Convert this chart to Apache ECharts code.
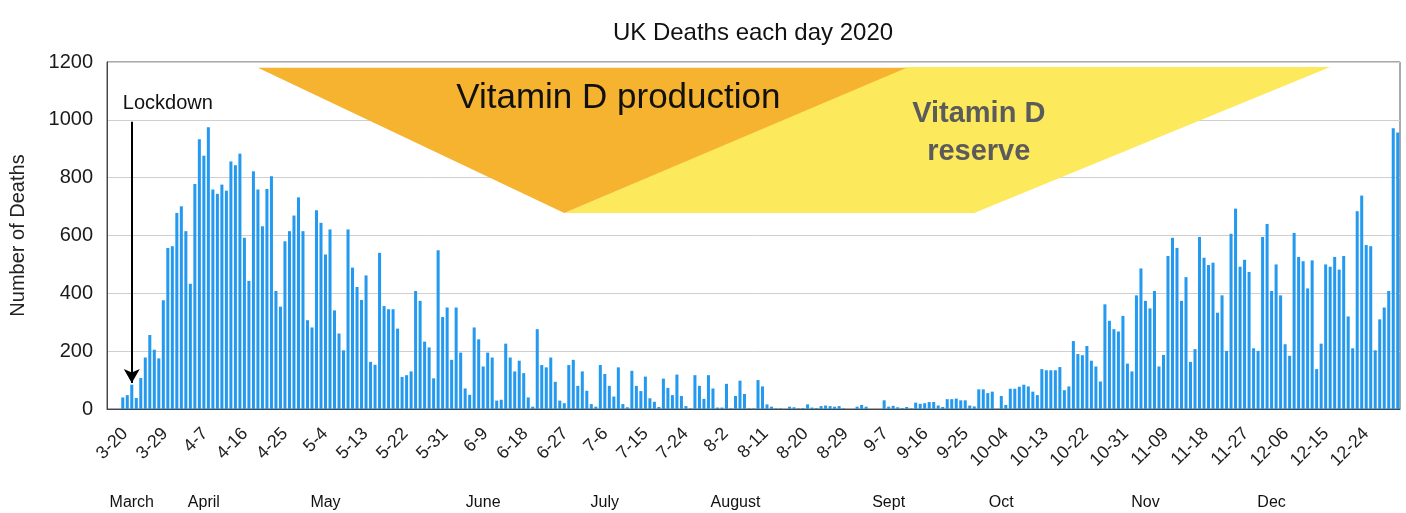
<!DOCTYPE html>
<html>
<head>
<meta charset="utf-8">
<script src="https://cdn.jsdelivr.net/npm/echarts@6/dist/echarts.min.js"></script>
<style>
html,body{margin:0;padding:0;background:#fff;}
#chart{width:1406px;height:513px;}
</style>
</head>
<body>
<div id="chart"></div>
<script>
// ---- data ----
const startDate = [2020, 3, 20];
const endDate = [2020, 12, 31];
const categories = [];
(function(){
  const d = new Date(Date.UTC(startDate[0], startDate[1]-1, startDate[2]));
  const e = new Date(Date.UTC(endDate[0], endDate[1]-1, endDate[2]));
  while (d <= e) {
    const m = d.getUTCMonth()+1, day = d.getUTCDate();
    categories.push(m + '-' + (m >= 10 && day < 10 ? '0' + day : day));
    d.setUTCDate(d.getUTCDate()+1);
  }
})();

const deaths = [
  0, 0, 0,
  40, 48, 84, 38, 107, 178, 256, 205, 175, 376,
  557, 563, 678, 701, 615, 433, 778, 933, 876, 974,
  759, 744, 776, 755, 856, 843, 883, 592, 443, 822,
  759, 632, 761, 805, 408, 354, 580, 615, 669, 732,
  615, 307, 282, 687, 644, 534, 621, 341, 261, 203,
  621, 489, 422, 377, 462, 163, 153, 540, 356, 345,
  345, 278, 111, 117, 130, 408, 374, 233, 213, 106,
  549, 318, 351, 170, 351, 195, 71, 49, 282, 241,
  147, 195,
  178, 29, 32, 226, 178, 130, 167, 124, 40, 8,
  276, 152, 144, 178, 94, 29, 20, 152, 170, 80,
  130, 63, 17, 8, 152, 121, 80, 43, 144, 17,
  6, 132, 80, 62, 112, 37, 25, 7, 105, 73,
  48, 119, 45,
  10, 2, 117, 80, 35, 117, 71, 5, 5, 87,
  2, 45, 98, 52, 2, 2, 100, 78, 16, 8,
  2, 2, 0, 8,
  6, 2, 3, 16, 5, 3, 10, 12, 10, 8,
  10, 2, 0, 0, 8, 14, 8, 0, 0, 0,
  30, 8, 11, 6, 3, 7, 2, 22, 18, 20,
  24, 24, 12, 7,
  34, 34, 36, 30, 30, 12, 9, 68, 68, 55,
  60, 0, 45, 14, 70, 70, 77, 84, 78, 60,
  48, 138, 134, 134, 134, 145, 65, 78, 235, 190,
  186,
  218, 167, 147, 95, 362, 305, 276, 268, 322, 157,
  130, 393, 486, 374, 348, 408, 147, 187, 529, 592,
  557, 374, 456, 163, 207, 595, 523, 498, 506, 333,
  393, 201, 606, 693, 492, 516, 474,
  210, 201, 595, 640, 408, 500, 393, 224, 184, 609,
  526, 511, 417, 514, 138, 226, 500, 492, 526, 482,
  529, 320, 210, 684, 738, 567, 563, 203, 310, 351,
  408, 971, 956
];

const yTicks = [0, 200, 400, 600, 800, 1000, 1200];

const monthLabels  = ['March', 'April', 'May', 'June', 'July', 'August', 'Sept', 'Oct', 'Nov', 'Dec'];
const monthAnchors = ['3-25', '4-10', '5-7', '6-11', '7-8', '8-6', '9-9', '10-04', '11-05', '12-03'];

// annotation shapes in data coordinates [category, value]
const productionShape = [['4-22', 1180], ['9-13', 1180], ['6-29', 678]];
const reserveShape = [['6-29', 678], ['9-28', 678], ['12-16', 1183], ['9-13', 1183]];
const lockdownDate = '3-25';
const lockdownArrow = [993, 90];
const lockdownText = ['3-23', 1058];
const productionText = ['7-11', 1073];
const reserveText1 = ['9-29', 1020];
const reserveText2 = ['9-29', 889];

const FONT = '"Liberation Sans", Arial, Helvetica, sans-serif';

const chart = echarts.init(document.getElementById('chart'));
chart.setOption({
  animation: false,
  backgroundColor: '#fff',
  title: {
    text: 'UK Deaths each day 2020',
    left: 748, top: 16, textAlign: 'center',
    textStyle: { fontFamily: FONT, fontSize: 24, fontWeight: 'normal', color: '#111' }
  },
  grid: [{
    left: 107, right: 6, top: 62, bottom: 104,
    show: true, borderColor: '#555', borderWidth: 1, backgroundColor: 'transparent'
  }, {
    // label-only axis frame (tick labels of the reference run slightly tighter than the bars)
    left: 122.8, right: 6.6, top: 62, bottom: 104, show: false
  }],
  xAxis: [{
    type: 'category',
    gridIndex: 0,
    data: categories,
    boundaryGap: true,
    axisLine: { lineStyle: { color: '#444' } },
    axisTick: { show: false },
    axisLabel: { show: false }
  }, {
    type: 'category',
    gridIndex: 1,
    data: categories,
    boundaryGap: true,
    axisLine: { show: false },
    axisTick: { show: false },
    splitLine: { show: false },
    axisLabel: {
      interval: 8, rotate: 45, margin: 22,
      fontFamily: FONT, fontSize: 18, color: '#222'
    }
  }],
  yAxis: [{
    type: 'value',
    gridIndex: 0,
    min: yTicks[0], max: yTicks[yTicks.length-1], interval: 200,
    name: 'Number of Deaths',
    nameLocation: 'middle', nameGap: 79, nameRotate: 90,
    nameTextStyle: { fontFamily: FONT, fontSize: 20, color: '#222' },
    axisLine: { show: true, lineStyle: { color: '#444' } },
    axisTick: { show: false },
    axisLabel: { fontFamily: FONT, fontSize: 20, color: '#1a1a1a', margin: 14, formatter: function (v) { return String(v); } },
    splitLine: { lineStyle: { color: '#cfcfcf', width: 1 } }
  }, {
    type: 'value',
    gridIndex: 1,
    show: false,
    min: yTicks[0], max: yTicks[yTicks.length-1]
  }],
  series: [{
    type: 'bar',
    xAxisIndex: 0, yAxisIndex: 0,
    data: deaths,
    barCategoryGap: '33%',
    itemStyle: { color: '#2399ef' },
    markLine: {
      silent: true,
      symbol: ['none', 'arrow'],
      symbolSize: [12, 14],
      label: { show: false },
      lineStyle: { color: '#000', width: 2, type: 'solid' },
      data: [[ { coord: [lockdownDate, lockdownArrow[0]] }, { coord: [lockdownDate, lockdownArrow[1]] } ]]
    }
  }]
});

function px(p) { return chart.convertToPixel({ gridIndex: 0 }, p); }

const monthY = 503;

const graphics = [];
graphics.push({
  type: 'polygon', z: 5,
  shape: { points: reserveShape.map(px) },
  style: { fill: '#fde95c' }
});
graphics.push({
  type: 'polygon', z: 6,
  shape: { points: productionShape.map(px) },
  style: { fill: '#f5b32f' }
});
const pt = px(productionText);
graphics.push({
  type: 'text', z: 7, x: pt[0], y: pt[1],
  style: { text: 'Vitamin D production', fontFamily: FONT, fontSize: 35, fill: '#111', textAlign: 'center', textVerticalAlign: 'middle' }
});
const r1 = px(reserveText1), r2 = px(reserveText2);
graphics.push({
  type: 'text', z: 7, x: r1[0], y: r1[1],
  style: { text: 'Vitamin D', fontFamily: FONT, fontSize: 29, fontWeight: 'bold', fill: '#5b5b5b', textAlign: 'center', textVerticalAlign: 'middle' }
});
graphics.push({
  type: 'text', z: 7, x: r2[0], y: r2[1],
  style: { text: 'reserve', fontFamily: FONT, fontSize: 29, fontWeight: 'bold', fill: '#5b5b5b', textAlign: 'center', textVerticalAlign: 'middle' }
});
const lt = px(lockdownText);
graphics.push({
  type: 'text', z: 7, x: lt[0], y: lt[1],
  style: { text: 'Lockdown', fontFamily: FONT, fontSize: 20, fill: '#111', textAlign: 'left', textVerticalAlign: 'middle' }
});
monthLabels.forEach(function (m, i) {
  const p = px([monthAnchors[i], 0]);
  graphics.push({
    type: 'text', z: 7, x: p[0], y: monthY,
    style: { text: m, fontFamily: FONT, fontSize: 16, fill: '#111', textAlign: 'center', textVerticalAlign: 'middle' }
  });
});
chart.setOption({ graphic: graphics });
</script>
</body>
</html>
